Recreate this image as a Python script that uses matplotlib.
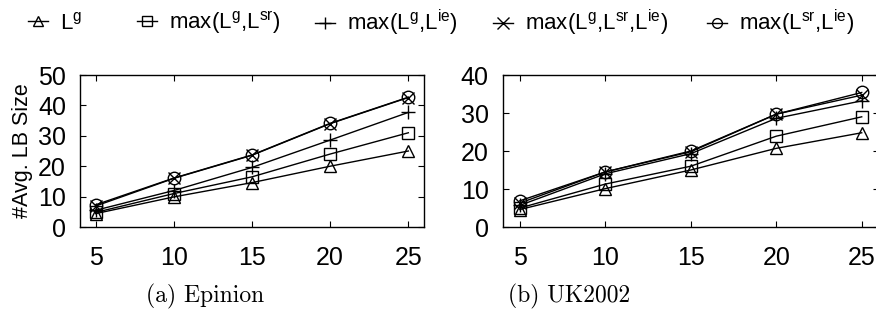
import matplotlib
matplotlib.use("Agg")
import matplotlib.pyplot as plt
from matplotlib.lines import Line2D

plt.rcParams["font.family"] = ["Liberation Sans", "DejaVu Sans"]
plt.rcParams["mathtext.default"] = "regular"

X_VALUES = [5, 10, 15, 20, 25]

SERIES_LABELS = [
    r"L$^{g}$",
    r"max(L$^{g}$,L$^{sr}$)",
    r"max(L$^{g}$,L$^{ie}$)",
    r"max(L$^{g}$,L$^{sr}$,L$^{ie}$)",
    r"max(L$^{sr}$,L$^{ie}$)",
]
SERIES_MARKERS = ["^", "s", "+", "x", "o"]

# Epinion
EPINION = [
    [4.4, 9.9, 14.6, 20.0, 25.0],
    [4.8, 11.0, 16.5, 24.0, 31.0],
    [5.5, 12.0, 19.6, 28.6, 37.7],
    [6.9, 16.0, 23.6, 34.0, 42.6],
    [7.3, 16.1, 23.7, 34.1, 42.7],
]

# UK2002
UK2002 = [
    [4.6, 10.1, 15.0, 20.7, 24.8],
    [5.0, 11.3, 16.0, 23.9, 29.0],
    [5.7, 14.0, 19.3, 28.6, 33.2],
    [6.3, 14.5, 19.8, 29.7, 34.7],
    [6.9, 14.5, 20.0, 29.7, 35.4],
]

PANELS = [
    ("(a) Epinion", EPINION, (0, 50), [0, 10, 20, 30, 40, 50]),
    ("(b) UK2002", UK2002, (0, 40), [0, 10, 20, 30, 40]),
]

# marker sizes (plot, legend)
PLOT_MS = {"^": 9, "s": 9, "+": 10, "x": 9, "o": 9}
LEG_MS = {"^": 7, "s": 7, "+": 9, "x": 8, "o": 7}

fig = plt.figure(figsize=(8.76, 3.29), dpi=100)
axes_rects = [
    [0.0913, 0.310, 0.3927, 0.462],
    [0.5739, 0.310, 0.4293, 0.462],
]
caption_x = [0.234, 0.650]

for (caption, data, ylim, yticks), rect, cx in zip(PANELS, axes_rects, caption_x):
    ax = fig.add_axes(rect)
    for values, marker in zip(data, SERIES_MARKERS):
        ax.plot(X_VALUES, values, color="black", linewidth=1.0,
                marker=marker, markersize=PLOT_MS[marker], markerfacecolor="none",
                markeredgecolor="black", markeredgewidth=1.0)
    ax.set_xlim(4, 26)
    ax.set_ylim(*ylim)
    ax.set_xticks(X_VALUES)
    ax.set_yticks(yticks)
    ax.tick_params(direction="in", length=4, width=0.8, labelsize=18,
                   top=True, right=True)
    ax.tick_params(axis="y", pad=10)
    ax.tick_params(axis="x", pad=14)
    for sp in ax.spines.values():
        sp.set_linewidth(1.0)
    fig.text(cx, 0.10, caption, fontfamily="cmr10", fontsize=17,
             ha="center", va="center")
    if caption.startswith("(a)"):
        ax.set_ylabel("#Avg. LB Size", fontsize=15.5)
        ax.yaxis.set_label_coords(-0.137, 0.5)

# legend items placed one by one along the top
legend_x = [28, 137, 315, 493, 707]
for label, marker, lx in zip(SERIES_LABELS, SERIES_MARKERS, legend_x):
    h = Line2D([], [], color="black", linewidth=1.0, marker=marker,
               markersize=LEG_MS[marker], markerfacecolor="none",
               markeredgewidth=1.0)
    fig.legend([h], [label], loc="center left",
               bbox_to_anchor=(lx / 876, 1 - 23 / 329), frameon=False,
               fontsize=16, handlelength=0.9, handletextpad=0.55,
               borderaxespad=0, borderpad=0)

fig.savefig("out.png", dpi=100)
